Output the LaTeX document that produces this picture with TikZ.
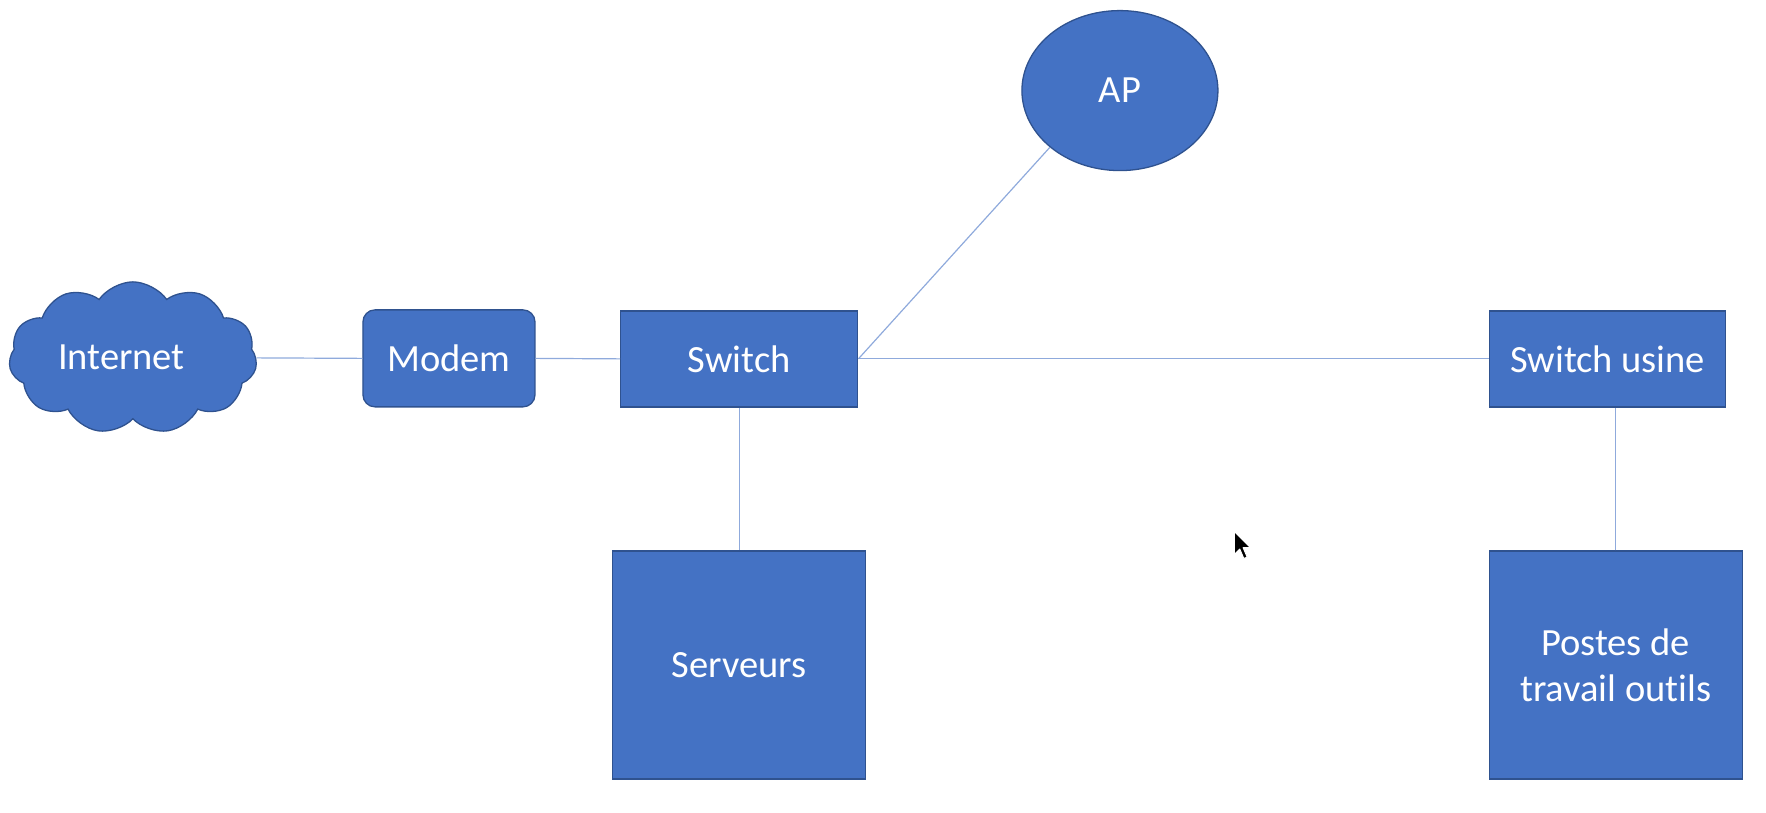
\documentclass[tikz,border=0pt]{standalone}
\usepackage{fontspec}
\setmainfont{Carlito}[Ligatures={NoCommon}]
\usetikzlibrary{shapes.symbols,shapes.geometric}
\definecolor{boxfill}{HTML}{4472C4}
\definecolor{boxline}{HTML}{2F528F}
\definecolor{wire}{HTML}{8FAADC}
\tikzset{
  shapebase/.style={fill=boxfill,draw=boxline,line width=1.3pt,text=white,
    font=\fontsize{38.5}{46}\selectfont,inner sep=0pt,align=center},
  boxnode/.style={shapebase,rectangle},
  roundnode/.style={shapebase,rectangle,rounded corners=12pt},
  ovalnode/.style={shapebase,ellipse},
  cloudnode/.style={shapebase,cloud,cloud puffs=11,cloud puff arc=110,aspect=1.6},
  wireline/.style={draw=wire,line width=1.2pt},
}
\begin{document}
\begin{tikzpicture}[x=0.9955pt,y=-0.9955pt]
\useasboundingbox (0,0) rectangle (1774,815.7);
\node[cloudnode,minimum width=248pt,minimum height=152pt] (inet) at (133.5,359.5) {};
\node[text=white,font=\fontsize{38.5}{46}\selectfont,inner sep=0pt] (inettxt) at (122,359) {Internet};
\node[roundnode,minimum width=172pt,minimum height=97pt] (modem) at (451,360) {Modem};
\node[boxnode,minimum width=237pt,minimum height=96pt] (sw) at (742.6,360.5) {Switch};
\node[ovalnode,minimum width=196pt,minimum height=160pt] (ap) at (1125,91) {AP};
\node[boxnode,minimum width=236pt,minimum height=96pt] (usine) at (1615,360.5) {Switch usine};
\node[boxnode,minimum width=253pt,minimum height=228pt] (serv) at (742.6,668) {Serveurs};
\node[boxnode,minimum width=253pt,minimum height=228pt] (postes) at (1623,668) {Postes de\\travail outils};
\draw[wireline] (inet.east) -- (modem.west);
\draw[wireline] (modem.east) -- (sw.west);
\draw[wireline] (sw.east) -- (usine.west);
\draw[wireline] (sw.east) -- (ap.219);
\draw[wireline] (sw.south) -- (serv.north);
\draw[wireline] (postes.north) -- (postes.north |- usine.south);
% mouse cursor
\coordinate (cur) at (1240,534);
\draw[fill=black,draw=white,line width=1pt,line join=round,shift={(cur)},scale=1.35]
  (0,0) -- (0,17) -- (4,13) -- (7,20) -- (9.5,19) -- (6.5,12) -- (12,12) -- cycle;
\end{tikzpicture}
\end{document}
